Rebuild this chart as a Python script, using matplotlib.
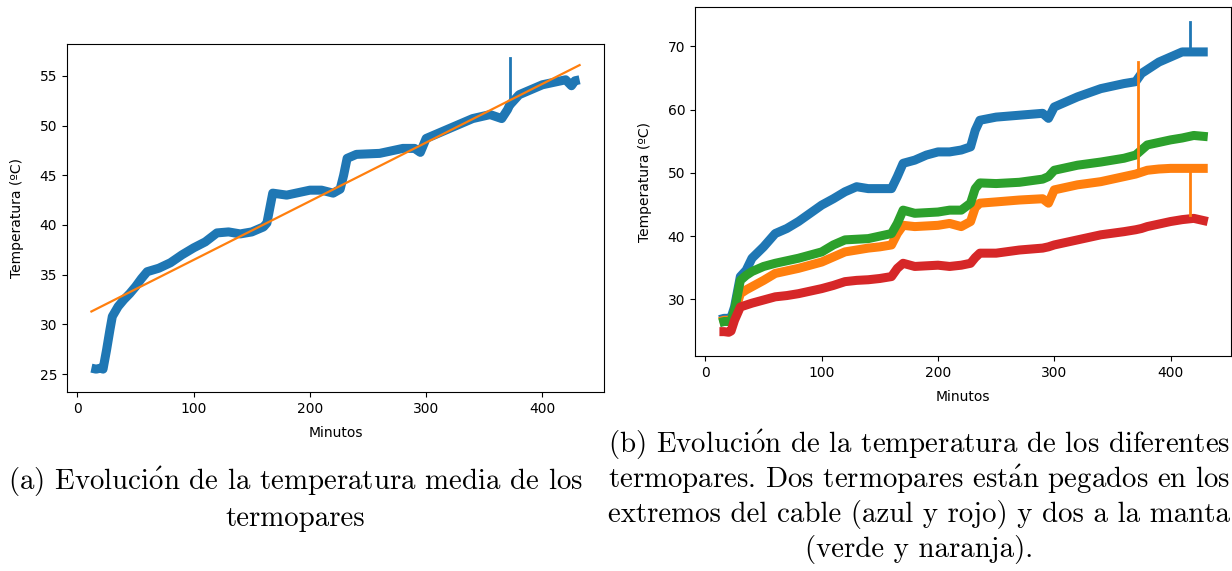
import numpy as np
import matplotlib
matplotlib.use("Agg")
import matplotlib.pyplot as plt

# ---- (a) mean thermocouple temperature -------------------------------------
mean_min = [12, 16, 20, 22, 25, 28, 30, 35, 40, 45, 50, 55, 60, 70, 80, 90, 100,
            110, 120, 130, 140, 150, 160, 163, 166, 168, 180, 200, 210, 220, 226,
            229, 232, 240, 260, 280, 290, 295, 300, 320, 340, 355, 365, 370, 372,
            373, 380, 400, 420, 425, 428, 432]
mean_temp = [25.6, 25.5, 25.6, 25.5, 27.4, 29.5, 30.8, 31.8, 32.5, 33.1, 33.8, 34.6,
             35.3, 35.65, 36.2, 37.0, 37.7, 38.3, 39.2, 39.3, 39.1, 39.3, 39.8, 40.2,
             42.0, 43.2, 43.0, 43.5, 43.5, 43.2, 43.6, 45.0, 46.7, 47.1, 47.2, 47.7,
             47.7, 47.3, 48.7, 49.7, 50.7, 51.1, 50.7, 51.6, 52.1, 52.2, 53.1, 54.1,
             54.6, 54.0, 54.5, 54.6]
mean_spike_min = 372
mean_spike_temp = 56.8

# linear fit of the mean temperature
fit_slope = 0.0590
fit_intercept = 30.59
fit_range = [12, 432]

# ---- (b) individual thermocouples ------------------------------------------
tc_min = [12, 16, 20, 22, 25, 30, 35, 40, 50, 60, 70, 80, 90, 100, 110, 120, 130,
          140, 150, 160, 165, 170, 180, 190, 200, 210, 220, 228, 232, 236, 250,
          270, 290, 295, 300, 320, 340, 360, 370, 375, 380, 390, 400, 410, 420,
          432]
tc_blue = [26.8, 27.0, 27.0, 27.1, 28.8, 33.6, 34.6, 36.5, 38.3, 40.4, 41.2, 42.3,
           43.6, 44.9, 45.9, 47.0, 47.8, 47.5, 47.5, 47.5, 49.4, 51.5, 52.0, 52.8,
           53.3, 53.3, 53.6, 54.1, 56.7, 58.3, 58.8, 59.1, 59.4, 58.6, 60.4, 62.0,
           63.3, 64.1, 64.4, 65.7, 66.3, 67.5, 68.3, 69.1, 69.1, 69.1]
tc_green = [26.3, 26.5, 26.5, 26.6, 28.3, 33.0, 33.8, 34.4, 35.2, 35.7, 36.1, 36.5,
            37.0, 37.5, 38.6, 39.4, 39.5, 39.6, 40.0, 40.4, 42.0, 44.1, 43.6, 43.7,
            43.8, 44.1, 44.1, 45.2, 47.5, 48.4, 48.3, 48.5, 49.0, 49.4, 50.4, 51.2,
            51.7, 52.3, 52.8, 53.6, 54.4, 54.8, 55.2, 55.5, 55.9, 55.7]
tc_orange = [26.5, 26.7, 26.7, 26.8, 27.8, 30.9, 31.5, 32.0, 33.0, 34.1, 34.5, 34.9,
             35.4, 35.9, 36.7, 37.5, 37.8, 38.1, 38.3, 38.6, 40.4, 41.7, 41.5, 41.6,
             41.7, 42.0, 41.5, 42.3, 44.5, 45.2, 45.4, 45.7, 45.9, 45.2, 47.3, 48.1,
             48.6, 49.4, 49.8, 50.1, 50.4, 50.6, 50.7, 50.7, 50.7, 50.7]
tc_red = [24.9, 24.9, 24.8, 25.0, 26.7, 28.8, 29.1, 29.4, 29.9, 30.4, 30.6, 30.9,
          31.3, 31.7, 32.2, 32.8, 33.0, 33.1, 33.3, 33.6, 34.9, 35.7, 35.2, 35.3,
          35.4, 35.2, 35.4, 35.7, 36.6, 37.3, 37.3, 37.8, 38.1, 38.3, 38.6, 39.4,
          40.2, 40.7, 41.0, 41.2, 41.5, 41.9, 42.3, 42.6, 42.8, 42.3]

# isolated glitches in the logged signals: (minute, start value, end value)
glitch_orange_up = (372, 49.8, 67.5)
glitch_orange_down = (417, 50.7, 43.3)
glitch_blue_up = (417, 69.1, 73.8)

# captions, one entry per line (accents written with mathtext so that the
# Computer Modern glyphs are used throughout)
OACUTE = r"$\mathrm{\acute{o}}$"
AACUTE = r"$\mathrm{\acute{a}}$"
caption_a = [f"(a) Evoluci{OACUTE}n de la temperatura media de los",
             "termopares"]
caption_b = [f"(b) Evoluci{OACUTE}n de la temperatura de los diferentes",
             f"termopares. Dos termopares est{AACUTE}n pegados en los",
             "extremos del cable (azul y rojo) y dos a la manta",
             "(verde y naranja)."]

C_BLUE, C_ORANGE, C_GREEN, C_RED = "#1f77b4", "#ff7f0e", "#2ca02c", "#d62728"
BAND_LW = 6.5

plt.rcParams["font.size"] = 10
plt.rcParams["mathtext.fontset"] = "cm"

W, H = 1232, 571
fig = plt.figure(figsize=(W / 100, H / 100), dpi=100)


def px_axes(left, top, right, bottom):
    return fig.add_axes([left / W, 1 - bottom / H, (right - left) / W, (bottom - top) / H])


# ---- panel (a) ----
ax1 = px_axes(67, 44, 604, 392)
ax1.plot(mean_min, mean_temp, color=C_BLUE, lw=BAND_LW, solid_joinstyle="round",
         solid_capstyle="butt")
ax1.plot([mean_spike_min, mean_spike_min], [mean_temp[mean_min.index(mean_spike_min)],
         mean_spike_temp], color=C_BLUE, lw=2)
fx = np.array(fit_range, dtype=float)
ax1.plot(fx, fit_slope * fx + fit_intercept, color=C_ORANGE, lw=1.6)
ax1.set_xlim(-9, 453)
ax1.set_ylim(23.2, 58.2)
ax1.set_xticks([0, 100, 200, 300, 400])
ax1.set_yticks([25, 30, 35, 40, 45, 50, 55])
ax1.set_xlabel("Minutos", labelpad=7.5)
ax1.set_ylabel("Temperatura (ºC)", labelpad=11)

# ---- panel (b) ----
ax2 = px_axes(695, 7, 1231, 356)
for vals, col in [(tc_blue, C_BLUE), (tc_orange, C_ORANGE), (tc_green, C_GREEN),
                  (tc_red, C_RED)]:
    ax2.plot(tc_min, vals, color=col, lw=BAND_LW, solid_joinstyle="round",
             solid_capstyle="butt")
for (m, a, b), col in [(glitch_orange_up, C_ORANGE), (glitch_orange_down, C_ORANGE),
                       (glitch_blue_up, C_BLUE)]:
    ax2.plot([m, m], [a, b], color=col, lw=2)
ax2.set_xlim(-9, 452)
ax2.set_ylim(21.05, 76.2)
ax2.set_xticks([0, 100, 200, 300, 400])
ax2.set_yticks([30, 40, 50, 60, 70])
ax2.set_xlabel("Minutos", labelpad=7.5)
ax2.set_ylabel("Temperatura (ºC)", labelpad=11)

# ---- captions ----
cap_font = dict(family="cmr10", fontsize=20.8, color="black",
                ha="center", va="baseline")
for i, line in enumerate(caption_a):
    fig.text(295 / W, 1 - (490 + 36 * i) / H, line, **cap_font)
for i, line in enumerate(caption_b):
    fig.text(919 / W, 1 - (453 + 34.7 * i) / H, line, **cap_font)

fig.savefig("out.png", dpi=100)
